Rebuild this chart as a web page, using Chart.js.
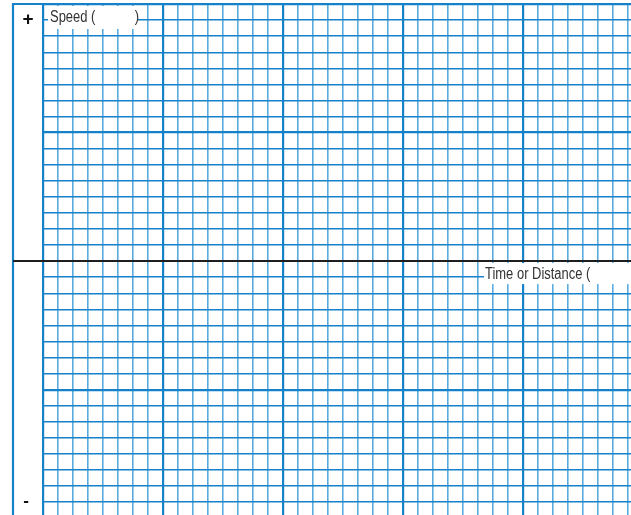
<!DOCTYPE html>
<html>
<head>
<meta charset="utf-8">
<script src="https://cdn.jsdelivr.net/npm/chart.js@4"></script>
<style>
  html, body { margin: 0; padding: 0; background: #fff; }
  #wrap { width: 631px; height: 515px; }
</style>
</head>
<body>
<div id="wrap"><canvas id="graphPaper" width="631" height="515"></canvas></div>
<script>
// Blank speed graph: grid paper only, no plotted values
var xRange = [0, 39.2];          // squares along time / distance
var yRange = [-15.8, 16];        // squares of speed, + above and - below
var majorEvery = 8;              // darker line every 8 squares
var signLabels = ['+', '-'];
var yTitle = ['Speed (', ')'];
var xTitle = 'Time or Distance (';

var lineMinorV = '#5aabdf';
var lineMinorH = '#1581c8';
var lineMajor = '#1581c8';

function integerTicks(scale) {
    var ticks = [];
    for (var v = Math.ceil(scale.min); v <= Math.floor(scale.max); v++) {
        ticks.push({ value: v });
    }
    scale.ticks = ticks;
}

function gridColor(minor) {
    return function(ctx) {
        var v = ctx.tick.value;
        if (v === 0 && minor === lineMinorH) return 'rgba(0,0,0,0)'; // axis drawn later
        return (v % majorEvery === 0) ? lineMajor : minor;
    };
}
function gridWidth(minorW) {
    return function(ctx) {
        return (ctx.tick.value % majorEvery === 0) ? 2.2 : minorW;
    };
}

// narrow text: squeeze horizontally
function narrowText(c, txt, x, y, align) {
    var sq = 0.81;
    c.save();
    c.translate(x, y);
    c.scale(sq, 1);
    c.textAlign = align;
    c.fillText(txt, 0, 0);
    c.restore();
}

//extras: left border, axis line, signs and titles
var paperExtras = {
    id: 'paperExtras',
    afterDraw: function(chart) {
        var c = chart.ctx;
        var xs = chart.scales.x, ys = chart.scales.y;
        var left = 13;
        var right = chart.width;
        var top = ys.getPixelForValue(yRange[1]);
        var zeroY = ys.getPixelForValue(0);
        var x0 = xs.getPixelForValue(0);

        c.save();
        // outer border
        c.strokeStyle = lineMajor;
        c.lineWidth = 2.2;
        c.beginPath();
        c.moveTo(left, chart.height);
        c.lineTo(left, top);
        c.lineTo(x0, top);
        c.stroke();

        // horizontal axis
        c.strokeStyle = '#1e1e1e';
        c.lineWidth = 2;
        c.beginPath();
        c.moveTo(left, zeroY);
        c.lineTo(right, zeroY);
        c.stroke();

        // titles on white boxes
        c.fillStyle = '#ffffff';
        c.fillRect(x0 + 5, top + 2, 90, 23);
        var tx = xs.getPixelForValue(29.4);
        c.fillRect(tx, zeroY + 2, right - tx, 21);

        c.fillStyle = '#333333';
        c.font = '16px "Liberation Sans", Arial, sans-serif';
        c.textBaseline = 'middle';
        narrowText(c, yTitle[0], x0 + 7, top + 14, 'left');
        narrowText(c, yTitle[1], x0 + 96, top + 14, 'right');
        narrowText(c, xTitle, tx + 1, zeroY + 13, 'left');

        // + and - signs
        c.fillStyle = '#111111';
        c.font = 'bold 19px "Liberation Sans", Arial, sans-serif';
        c.textAlign = 'center';
        c.fillText(signLabels[0], 28, top + 16);
        c.font = 'bold 17px "Liberation Sans", Arial, sans-serif';
        c.fillText(signLabels[1], 26, ys.getPixelForValue(-14.95));
        c.restore();
    }
};

var ctx = document.getElementById('graphPaper').getContext('2d');
var graph = new Chart(ctx, {
    type: 'scatter',
    data: { datasets: [{ data: [] }] },
    options: {
        responsive: false,
        animation: false,
        layout: { padding: { left: 43, top: 4, right: 0, bottom: 0 } },
        plugins: {
            legend: { display: false },
            tooltip: { enabled: false }
        },
        scales: {
            x: {
                type: 'linear',
                min: xRange[0],
                max: xRange[1],
                afterBuildTicks: integerTicks,
                ticks: { display: false },
                border: { display: false },
                grid: {
                    drawTicks: false,
                    color: gridColor(lineMinorV),
                    lineWidth: gridWidth(1.6)
                }
            },
            y: {
                type: 'linear',
                min: yRange[0],
                max: yRange[1],
                afterBuildTicks: integerTicks,
                ticks: { display: false },
                border: { display: false },
                grid: {
                    drawTicks: false,
                    color: gridColor(lineMinorH),
                    lineWidth: gridWidth(1.4)
                }
            }
        }
    },
    plugins: [paperExtras]
});
</script>
</body>
</html>
